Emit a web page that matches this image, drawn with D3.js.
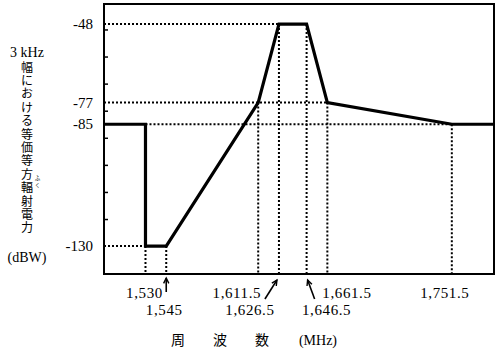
<!DOCTYPE html>
<html>
<head>
<meta charset="utf-8">
<script src="https://cdn.jsdelivr.net/npm/d3@7"></script>
<style>
  body { margin: 0; background: #fff; }
  text { fill: #000; }
</style>
</head>
<body>
<div id="chart"></div>
<script>
// mask shape: frequency (MHz) vs e.i.r.p. (dBW per 3 kHz)
const freqs = [1500, 1530, 1530, 1545, 1611.5, 1626.5, 1646.5, 1661.5, 1751.5, 1782];
const levels = [-85, -85, -130, -130, -77, -48, -48, -77, -85, -85];

const yLabelValues = [-48, -77, -85, -130];
const yMinorTicks = [-50, -60, -70, -80, -90, -100, -110, -120];

// dotted guide lines (null = start at the axis)
const hGuides = [
  {y: -48, from: null, to: 1626.5},
  {y: -77, from: null, to: 1661.5},
  {y: -85, from: 1530, to: 1751.5},
  {y: -130, from: null, to: 1530}
];
const vGuides = [
  {x: 1530, top: -130}, {x: 1545, top: -130}, {x: 1611.5, top: -77},
  {x: 1626.5, top: -48}, {x: 1646.5, top: -48}, {x: 1661.5, top: -77},
  {x: 1751.5, top: -85}
];

const yTitle = ["幅", "に", "お", "け", "る", "等", "価", "等", "方", "輻", "射", "電", "力"];
const xTitle = ["周", "波", "数"];

const W = 500, H = 352;
const svg = d3.select("#chart").append("svg")
  .attr("width", W).attr("height", H);

const x = d3.scaleLinear().domain([1500, 1782]).range([104, 494]);
const y = d3.scaleLinear().domain([-140.3, -40.6]).range([274, 4]);

const serif = "Liberation Serif, DejaVu Serif, serif";
const cjk = "Noto Sans CJK JP, sans-serif";
// latin font first keeps the line box tight; glyphs fall back to CJK
const cjkTight = "Liberation Serif, Noto Sans CJK JP, sans-serif";

// guides
const guides = svg.append("g")
  .attr("stroke", "#000").attr("stroke-width", 2)
  .attr("stroke-dasharray", "2,2").attr("fill", "none");

hGuides.forEach(g => {
  guides.append("line")
    .attr("x1", g.from === null ? x.range()[0] : x(g.from))
    .attr("x2", x(g.to))
    .attr("y1", y(g.y)).attr("y2", y(g.y));
});
vGuides.forEach(g => {
  guides.append("line")
    .attr("x1", x(g.x)).attr("x2", x(g.x))
    .attr("y1", y(g.top)).attr("y2", y.range()[0]);
});

// frame
svg.append("rect")
  .attr("x", x.range()[0]).attr("y", y.range()[1])
  .attr("width", x.range()[1] - x.range()[0])
  .attr("height", y.range()[0] - y.range()[1])
  .attr("fill", "none").attr("stroke", "#000").attr("stroke-width", 2);

// y axis: minor ticks inside, labels for key levels
const yAxis = svg.append("g")
  .attr("transform", `translate(${x.range()[0]},0)`)
  .call(d3.axisRight(y).tickValues(yMinorTicks).tickSize(4).tickFormat(""));
yAxis.select(".domain").remove();
yAxis.selectAll("line").attr("stroke", "#000").attr("stroke-width", 1.5);

svg.append("g").selectAll("text")
  .data(yLabelValues).join("text")
  .attr("x", 93).attr("y", d => y(d))
  .attr("dy", "0.35em")
  .attr("text-anchor", "end")
  .attr("font-family", serif).attr("font-size", 15)
  .text(d => d);

// the mask line
svg.append("path")
  .datum(freqs.map((f, i) => ({f: f, v: levels[i]})))
  .attr("fill", "none").attr("stroke", "#000")
  .attr("stroke-width", 3.2).attr("stroke-linejoin", "miter")
  .attr("d", d3.line().x(d => x(d.f)).y(d => y(d.v)));

// x labels
const fmt = d3.format(",");
const xl = svg.append("g")
  .attr("font-family", serif).attr("font-size", 15).attr("letter-spacing", 0.6);
function lab(v, px, py, anchor) {
  xl.append("text").attr("x", px).attr("y", py)
    .attr("text-anchor", anchor).text(fmt(v));
}
lab(1530, x(1530) - 1, 298, "middle");
lab(1545, x(1545) - 2, 315, "middle");
lab(1611.5, x(1611.5) + 3, 298, "end");
lab(1626.5, x(1626.5) - 29, 315, "middle");
lab(1661.5, x(1661.5) - 5, 298, "start");
lab(1646.5, x(1646.5) + 20, 315, "middle");
lab(1751.5, x(1751.5) - 7, 298, "middle");

// arrows
const arrows = [
  {x1: x(1545), y1: 292, x2: x(1545), y2: 278},
  {x1: x(1626.5) - 14, y1: 299, x2: x(1626.5) - 2, y2: 280},
  {x1: x(1646.5) + 8, y1: 299, x2: x(1646.5) + 1, y2: 280}
];
const ag = svg.append("g");
arrows.forEach(a => {
  ag.append("line")
    .attr("x1", a.x1).attr("y1", a.y1).attr("x2", a.x2).attr("y2", a.y2)
    .attr("stroke", "#000").attr("stroke-width", 1.6);
  const ang = Math.atan2(a.y2 - a.y1, a.x2 - a.x1);
  const L = 6, spread = 0.45;
  const p1 = [a.x2 - L * Math.cos(ang - spread), a.y2 - L * Math.sin(ang - spread)];
  const p2 = [a.x2 - L * Math.cos(ang + spread), a.y2 - L * Math.sin(ang + spread)];
  ag.append("path")
    .attr("d", `M${p1}L${a.x2},${a.y2}L${p2}`)
    .attr("fill", "none").attr("stroke", "#000").attr("stroke-width", 1.4);
});

// x title
const xt = svg.append("g").attr("font-size", 14);
xTitle.forEach((c, i) => {
  xt.append("text").attr("x", 178 + i * 42).attr("y", 345)
    .attr("text-anchor", "middle").attr("font-family", cjk).text(c);
});
xt.append("text").attr("x", 318).attr("y", 345)
  .attr("text-anchor", "middle").attr("font-family", serif).text("(MHz)");

// y title (vertical stack, one glyph per line)
const yt = svg.append("g").attr("text-anchor", "middle");
yt.append("text").attr("x", 27).attr("y", 57)
  .attr("font-family", serif).attr("font-size", 14).text("3 kHz");
yTitle.forEach((c, i) => {
  yt.append("text").attr("x", 27).attr("y", 71.5 + i * 13.4)
    .attr("font-family", cjkTight).attr("font-size", 12).text(c);
});
// ruby for 輻
yt.append("text").attr("x", 37.5).attr("y", 180)
  .attr("font-family", cjkTight).attr("font-size", 5.5).text("ふ");
yt.append("text").attr("x", 37.5).attr("y", 186.5)
  .attr("font-family", cjkTight).attr("font-size", 5.5).text("く");
yt.append("text").attr("x", 27).attr("y", 262)
  .attr("font-family", serif).attr("font-size", 14).text("(dBW)");
</script>
</body>
</html>
